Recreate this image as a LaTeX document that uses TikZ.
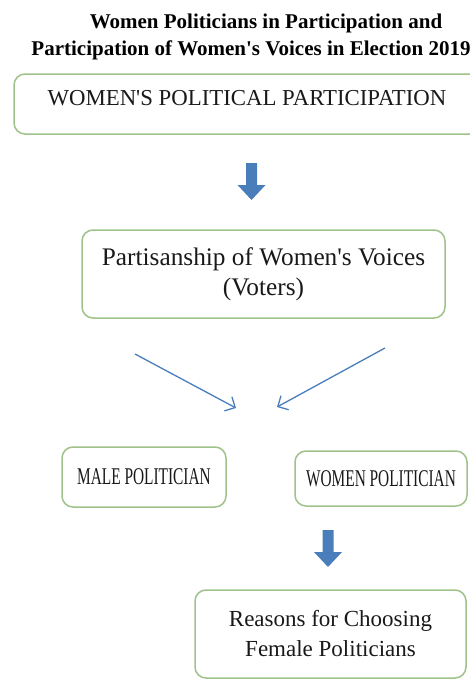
\documentclass[tikz,border=0pt]{standalone}
\usepackage{fontspec}
\setmainfont{Liberation Serif}
\newfontfamily\narrowserif[FakeStretch=0.64]{Liberation Serif}
\usetikzlibrary{arrows.meta,positioning}
\definecolor{boxGreen}{HTML}{9FC18A}
\definecolor{flowBlue}{HTML}{4A7EBB}

\begin{document}
\begin{tikzpicture}[x=1pt,y=1pt,
    box/.style={draw=boxGreen, line width=1.5pt, rounded corners=11pt, align=center, inner sep=0pt, text=black!90},
    thinarrow/.style={draw=flowBlue, line width=1.3pt, -{Straight Barb[length=8pt,width=16pt]}},
    blockarrow/.pic={\fill[flowBlue] (-5.5,0) -- (-5.5,-22) -- (-14,-22) -- (0,-37) -- (14,-22) -- (5.5,-22) -- (5.5,0) -- cycle;},
]
    \clip (0,0) rectangle (470,-680);
    % heading, two lines
    \node[anchor=base, font=\fontsize{21}{24}\selectfont\bfseries] (title1) at (266,-28) {Women Politicians in Participation and};
    \node[anchor=base, font=\fontsize{21}{24}\selectfont\bfseries] (title2) at (251,-55) {Participation of Women\textquotesingle s Voices in Election 2019};
    % top box
    \node[box, minimum width=466, minimum height=60, text height=15, text depth=12,
          font=\fontsize{22.8}{27}\selectfont] (participation) at (247,-104) {WOMEN\textquotesingle S POLITICAL PARTICIPATION};
    \pic at (251.5,-163) {blockarrow};
    \node[box, minimum width=363, minimum height=88, font=\fontsize{25.3}{30}\selectfont] (partisanship) at (263.5,-274)
        {Partisanship of Women\textquotesingle s Voices\\(Voters)};
    % the two voices meeting
    \coordinate (leftFrom) at (135,-354);
    \coordinate (leftTo) at (236,-408);
    \coordinate (rightFrom) at (385,-348);
    \coordinate (rightTo) at (277,-407);
    \draw[thinarrow] (leftFrom) -- (leftTo);
    \draw[thinarrow] (rightFrom) -- (rightTo);
    \node[box, minimum width=164, minimum height=60, font=\narrowserif\fontsize{24}{28}\selectfont] (male) at (144,-477) {MALE POLITICIAN};
    \node[box, minimum width=172, minimum height=55, font=\narrowserif\fontsize{24}{28}\selectfont] (women) at (381,-478.5) {WOMEN POLITICIAN};
    \pic at (328,-530) {blockarrow};
    \node[box, minimum width=271, minimum height=88, font=\fontsize{23}{30}\selectfont] (reasons) at (330.5,-634)
        {Reasons for Choosing\\Female Politicians};
\end{tikzpicture}
\end{document}
